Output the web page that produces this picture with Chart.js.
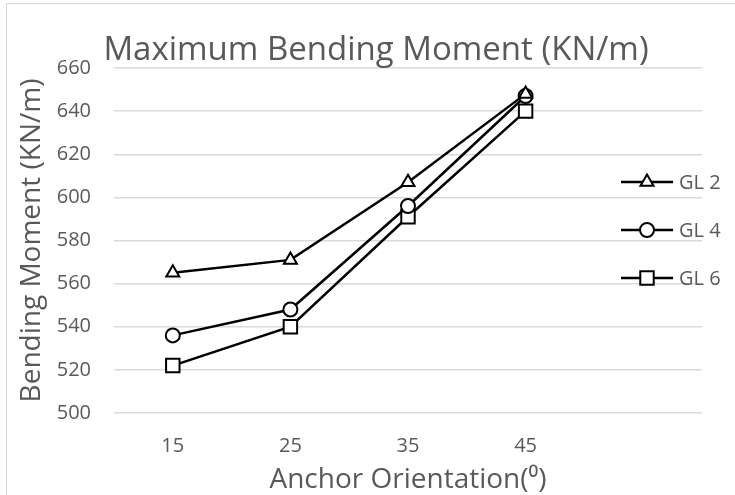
<!DOCTYPE html>
<html>
<head>
<meta charset="utf-8">
<script src="https://cdn.jsdelivr.net/npm/chart.js@4/dist/chart.umd.min.js"></script>
<style>
  html, body { margin: 0; padding: 0; background: #fff; }
  canvas { display: block; }
</style>
</head>
<body>
<canvas id="momentChart" width="735" height="495"></canvas>
<script>
// Anchor orientation (degrees); the last slot is left empty on purpose
const orientations = ['15', '25', '35', '45', ''];

// Maximum bending moment per ground level (KN/m)
const gl2 = [565, 571, 607, 648];
const gl4 = [536, 548, 596, 647];
const gl6 = [522, 540, 591, 640];

const seriesNames = ['GL 2', 'GL 4', 'GL 6'];
const seriesMarkers = ['triangle', 'circle', 'rect'];
const markerSizes = [7.5, 7, 9.5];

const yMin = 500;
const yMax = 660;
const yStep = 20;

const textGray = '#595959';
const gridGray = '#d9d9d9';
const fontFamily = "'Open Sans', sans-serif";

function makeSeries(i, values) {
    return {
        label: seriesNames[i],
        data: values,
        borderColor: '#000',
        borderWidth: 2.5,
        pointStyle: seriesMarkers[i],
        pointRadius: markerSizes[i],
        pointHoverRadius: markerSizes[i],
        pointBackgroundColor: '#fff',
        pointBorderColor: '#000',
        pointBorderWidth: 2,
        fill: false,
        tension: 0
    };
}

// white background plus the thin outer frame
const framePlugin = {
    id: 'frame',
    beforeDraw(chart) {
        const ctx = chart.ctx;
        ctx.save();
        ctx.fillStyle = '#fff';
        ctx.fillRect(0, 0, chart.width, chart.height);
        ctx.strokeStyle = gridGray;
        ctx.lineWidth = 1;
        ctx.strokeRect(6.5, 3.5, chart.width + 10, chart.height + 10);
        ctx.restore();
    }
};

// legend sits inside the empty right part of the plot
const sideLegend = {
    id: 'sideLegend',
    afterDraw(chart) {
        const ctx = chart.ctx;
        const rowY = [182, 230, 278];
        const x0 = 621, x1 = 673, markX = 647, textX = 679;
        ctx.save();
        chart.data.datasets.forEach((ds, i) => {
            const y = rowY[i];
            ctx.strokeStyle = '#000';
            ctx.lineWidth = 2.5;
            ctx.beginPath();
            ctx.moveTo(x0, y);
            ctx.lineTo(x1, y);
            ctx.stroke();

            ctx.fillStyle = '#fff';
            ctx.lineWidth = 2;
            Chart.helpers.drawPoint(ctx, {
                pointStyle: ds.pointStyle,
                radius: ds.pointRadius,
                borderWidth: 2,
                rotation: 0
            }, markX, y);

            ctx.fillStyle = textGray;
            ctx.font = '20px ' + fontFamily;
            ctx.textAlign = 'left';
            ctx.textBaseline = 'middle';
            ctx.fillText(ds.label, textX, y + 1);
        });
        ctx.restore();
    }
};

const ctx = document.getElementById('momentChart').getContext('2d');
const momentChart = new Chart(ctx, {
    type: 'line',
    data: {
        labels: orientations,
        datasets: [makeSeries(0, gl2), makeSeries(1, gl4), makeSeries(2, gl6)]
    },
    options: {
        responsive: false,
        animation: false,
        devicePixelRatio: 1,
        layout: {
            padding: { left: 50, right: 33, top: 0, bottom: 0 }
        },
        plugins: {
            legend: { display: false },
            tooltip: { enabled: false },
            title: {
                display: true,
                text: 'Maximum Bending Moment (KN/m)',
                color: textGray,
                font: { family: fontFamily, size: 33, weight: 'normal', lineHeight: 1 },
                padding: { top: 34, bottom: 1 }
            }
        },
        scales: {
            x: {
                offset: true,
                grid: { display: false, drawTicks: false },
                border: { display: false },
                ticks: {
                    color: textGray,
                    font: { family: fontFamily, size: 20 },
                    padding: 21,
                    maxRotation: 0,
                    autoSkip: false
                },
                title: {
                    display: true,
                    text: 'Anchor Orientation(⁰)',
                    color: textGray,
                    font: { family: fontFamily, size: 28, lineHeight: 1 },
                    padding: { top: 0, bottom: 1 }
                },
                afterFit(scale) { scale.height = 82; }
            },
            y: {
                min: yMin,
                max: yMax,
                grid: { color: gridGray, lineWidth: 1.5, drawTicks: false },
                border: { display: false },
                ticks: {
                    stepSize: yStep,
                    color: textGray,
                    font: { family: fontFamily, size: 20 },
                    padding: 23
                },
                title: {
                    display: true,
                    text: 'Bending Moment (KN/m)',
                    color: textGray,
                    font: { family: fontFamily, size: 28, lineHeight: 1 },
                    padding: { top: -32, bottom: 0 }
                },
                afterFit(scale) { scale.width = 64; }
            }
        }
    },
    plugins: [framePlugin, sideLegend]
});
</script>
</body>
</html>
